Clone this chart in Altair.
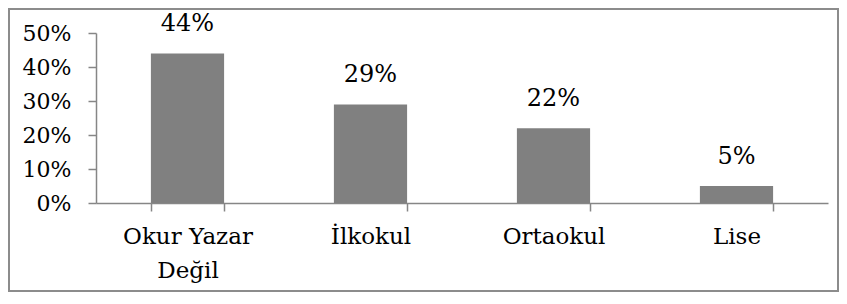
import altair as alt
import pandas as pd

categories = ["Okur Yazar Değil", "İlkokul", "Ortaokul", "Lise"]
values = [0.44, 0.29, 0.22, 0.05]
labels = ["44%", "29%", "22%", "5%"]
y_ticks = [0, 0.1, 0.2, 0.3, 0.4, 0.5]

df = pd.DataFrame({"cat": categories, "val": values, "lab": labels})

FONT = "DejaVu Serif"
AX = "#868686"
W, H = 732, 170

x_enc = alt.X(
    "cat:N",
    sort=categories,
    scale=alt.Scale(paddingInner=0.6, paddingOuter=0.3),
    axis=alt.Axis(
        title=None,
        labelAngle=0,
        labelFont=FONT,
        labelFontSize=23,
        labelColor="#000000",
        labelPadding=14,
        labelLineHeight=34,
        labelExpr="datum.value == 'Okur Yazar Değil' ? ['Okur Yazar', 'Değil'] : datum.label",
        tickBand="extent",
        tickSize=8,
        tickColor=AX,
        domainColor=AX,
        tickWidth=1.5,
        domainWidth=1.5,
    ),
)

y_enc = alt.Y(
    "val:Q",
    scale=alt.Scale(domain=[0, 0.5], nice=False),
    axis=alt.Axis(
        title=None,
        values=y_ticks,
        format=".0%",
        grid=False,
        labelOverlap=False,
        labelFont=FONT,
        labelFontSize=22,
        labelColor="#000000",
        labelPadding=17,
        tickSize=8,
        tickColor=AX,
        domainColor=AX,
        tickWidth=1.5,
        domainWidth=1.5,
    ),
)

base = alt.Chart(df).encode(x=x_enc, y=y_enc)

bars = base.mark_bar(color="#808080")

text = base.mark_text(
    font=FONT, fontSize=24, color="#000000", baseline="alphabetic", dy=-22
).encode(text="lab:N")

frame = alt.Chart(pd.DataFrame({"k": [0]})).mark_rect(
    filled=False, stroke="#8c8c8c", strokeWidth=2, clip=False
).encode(
    x=alt.value(-87), x2=alt.value(742), y=alt.value(-24), y2=alt.value(258)
)

chart = alt.layer(bars, text, frame).properties(
    width=W, height=H, padding=0
).configure(font=FONT).configure_view(strokeWidth=0)

chart.save("out.html", embed_options={"renderer": "svg", "actions": False})
